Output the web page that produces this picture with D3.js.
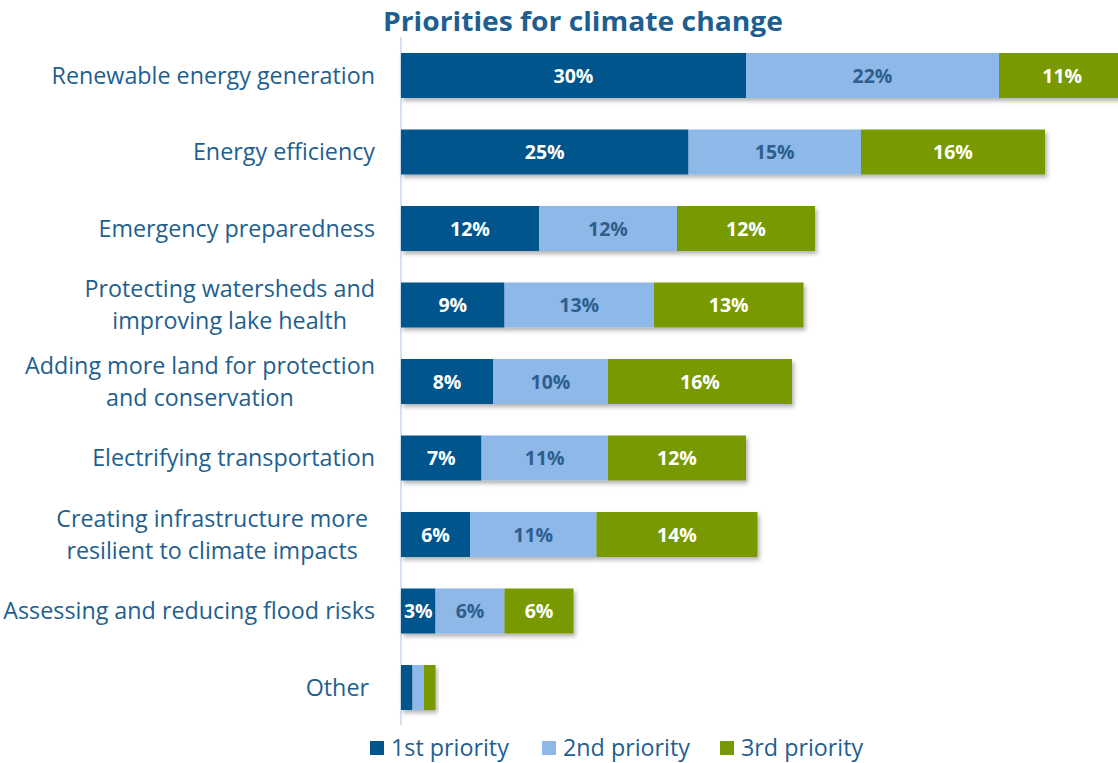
<!DOCTYPE html>
<html><head><meta charset="utf-8">
<script src="https://cdn.jsdelivr.net/npm/d3@7"></script>
<style>
html,body{margin:0;padding:0;background:#fff;}
svg{display:block;font-family:"Open Sans","Noto Sans",sans-serif;}
</style></head>
<body>
<svg id="chart" width="1118" height="763"></svg>
<script>
const categories = [
  ["Renewable energy generation"],
  ["Energy efficiency"],
  ["Emergency preparedness"],
  ["Protecting watersheds and","improving lake health"],
  ["Adding more land for protection","and conservation"],
  ["Electrifying transportation"],
  ["Creating infrastructure more","resilient to climate impacts"],
  ["Assessing and reducing flood risks"],
  ["Other"]
];
const seriesNames = ["1st priority","2nd priority","3rd priority"];
const first  = [30,25,12, 9, 8, 7, 6,3,1];
const second = [22,15,12,13,10,11,11,6,1];
const third  = [11,16,12,13,16,12,14,6,1];
const showLabel = [true,true,true,true,true,true,true,true,false];

const colors = ["#02568c","#8db8e8","#789a00"];
const labelColors = ["#ffffff","#2e5f8c","#ffffff"];
const textBlue = "#1f5f8f";

const svg = d3.select("#chart");
const defs = svg.append("defs");
const f = defs.append("filter").attr("id","sh").attr("x","-5%").attr("y","-20%").attr("width","115%").attr("height","160%");
f.append("feDropShadow").attr("dx",2).attr("dy",3).attr("stdDeviation",2).attr("flood-color","#000").attr("flood-opacity",0.3);

const rows = categories.map((c,i)=>({i, name:c, vals:[first[i],second[i],third[i]]}));
const x = d3.scaleLinear().domain([0,63]).range([401,401+63*11.5]);
const y = d3.scaleBand().domain(d3.range(categories.length)).range([37.25,725.75]).paddingInner(0.412).paddingOuter(0.206);

// axis line
svg.append("line").attr("x1",401).attr("x2",401).attr("y1",37).attr("y2",725)
  .attr("stroke","#d5e2f1").attr("stroke-width",2);

// title
svg.append("text").attr("x",583).attr("y",31).attr("text-anchor","middle")
  .attr("font-size",27.5).attr("font-weight","bold").attr("fill",textBlue)
  .attr("textLength",400).attr("lengthAdjust","spacingAndGlyphs")
  .text("Priorities for climate change");

// bars
const g = svg.append("g");
rows.forEach(r=>{
  let acc = 0;
  const rg = g.append("g").attr("filter","url(#sh)");
  r.vals.forEach((v,k)=>{
    rg.append("rect").attr("x",x(acc)).attr("y",y(r.i)).attr("width",x(acc+v)-x(acc)).attr("height",y.bandwidth())
      .attr("fill",colors[k]);
    acc += v;
  });
  if (showLabel[r.i]) {
    acc = 0;
    r.vals.forEach((v,k)=>{
      g.append("text").attr("x",(x(acc)+x(acc+v))/2).attr("y",y(r.i)+y.bandwidth()/2)
        .attr("dy","0.36em").attr("text-anchor","middle").attr("font-size",19.5).attr("font-weight","bold")
        .attr("fill",labelColors[k]).text(v+"%");
      acc += v;
    });
  }
});

// category labels
const lab = svg.append("g").attr("fill",textBlue).attr("font-size",23.3);
rows.forEach(r=>{
  const cy = y(r.i)+y.bandwidth()/2;
  const n = r.name.length;
  const lh = 32;
  const t = lab.append("text").attr("text-anchor","middle");
  const spans = r.name.map((line,j)=> t.append("tspan").attr("y",cy+(j-(n-1)/2)*lh).attr("dy","0.35em").text(line));
  const w = d3.max(spans.map(s=>s.node().getComputedTextLength()));
  const right = r.name[0]==="Other" ? 369 : (r.name[0].startsWith("Creating") ? 368 : 375);
  spans.forEach(s=>s.attr("x",right-w/2));
});

// legend
const legX = [370,542,720];
const leg = svg.append("g");
seriesNames.forEach((s,k)=>{
  leg.append("rect").attr("x",legX[k]).attr("y",741).attr("width",14).attr("height",14).attr("fill",colors[k]);
  leg.append("text").attr("x",legX[k]+21).attr("y",748).attr("dy","0.36em").attr("font-size",23.3)
    .attr("fill",textBlue).text(s);
});
</script>
</body></html>
